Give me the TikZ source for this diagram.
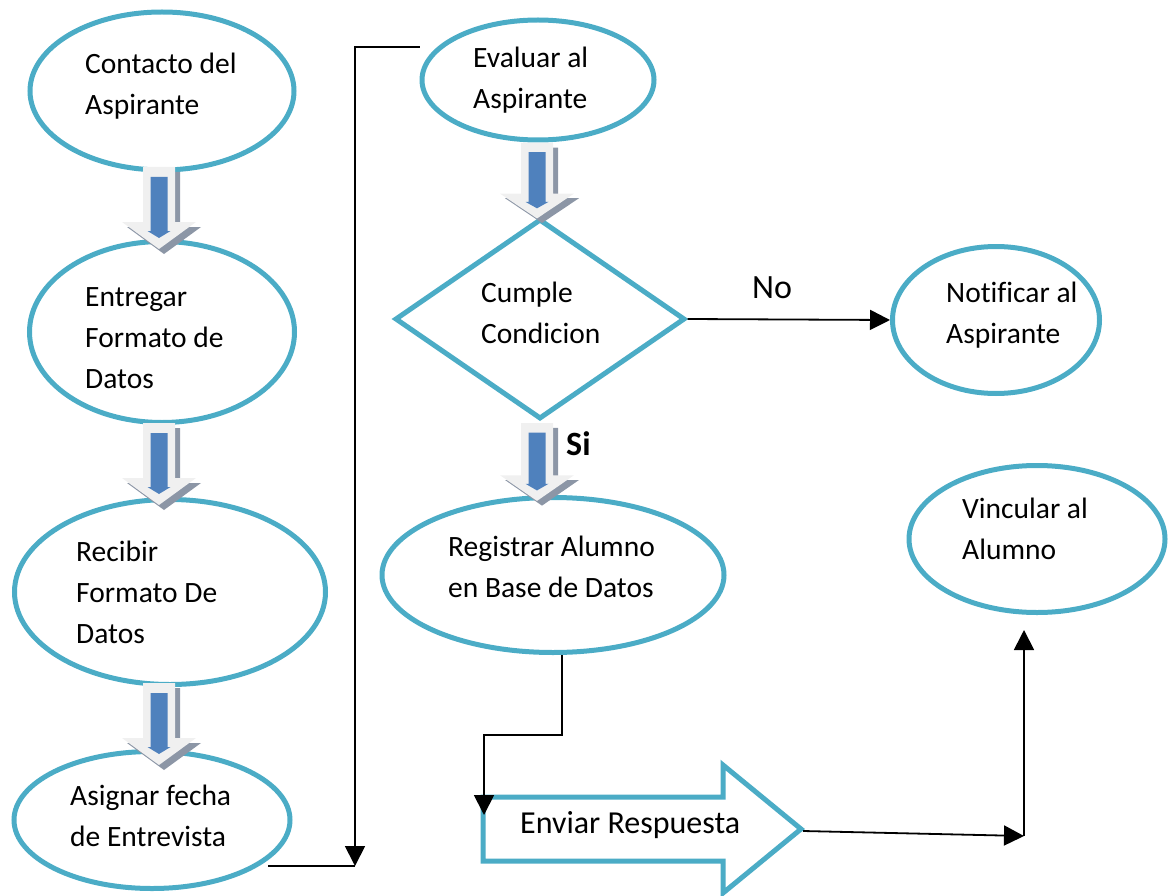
\documentclass[tikz,border=0pt]{standalone}
\usepackage{fontspec}
\setmainfont{Carlito}[Ligatures=NoCommon]
\usetikzlibrary{shapes.geometric,arrows.meta,calc}

\definecolor{turquesa}{RGB}{75,172,198}
\definecolor{azulflecha}{RGB}{79,129,189}
\definecolor{grisclaro}{RGB}{240,240,240}
\definecolor{grissombra}{RGB}{140,150,166}

\tikzset{
	proceso/.style={ellipse, draw=turquesa, line width=5pt, inner sep=0pt},
	decision/.style={diamond, draw=turquesa, line width=5pt, inner sep=0pt, fill=white},
	texto/.style={anchor=base west, align=left, inner sep=0pt, font=\fontsize{29.5}{41}\selectfont},
	linea/.style={line width=1.8pt},
	punta/.style={-{Triangle[length=20pt,width=20pt]}},
	flecha/.pic={
		\fill[grissombra] (-11,5) -- (21,5) -- (21,60) -- (42,60) -- (5,87) -- (-32,60) -- (-11,60) -- cycle;
		\fill[grisclaro] (-16,0) -- (16,0) -- (16,55) -- (37,55) -- (0,82) -- (-37,55) -- (-16,55) -- cycle;
		\fill[azulflecha] (-8.5,10) -- (8.5,10) -- (8.5,64) -- (11.5,64) -- (0,71) -- (-11.5,64) -- (-8.5,64) -- cycle;
	}
}

\begin{document}
\begin{tikzpicture}[x=1pt, y=-1pt]
			\useasboundingbox (0,0) rectangle (1172,896);
			
			% columna izquierda
			\node[proceso, minimum width=264pt, minimum height=158pt] (contacto) at (162,91) {};
			\node[proceso, minimum width=265pt, minimum height=181pt] (entregar) at (162,332) {};
			\node[proceso, minimum width=311pt, minimum height=185pt] (recibir) at (170,592) {};
			\node[proceso, minimum width=276pt, minimum height=137pt] (asignar) at (152,820) {};
			
			% columna central
			\node[proceso, minimum width=232pt, minimum height=120pt] (evaluar) at (538,80) {};
			\node[decision, minimum width=290pt, minimum height=200pt] (cumple) at (540,319) {};
			\node[proceso, minimum width=342pt, minimum height=155pt] (registrar) at (553,575) {};
			
			% columna derecha
			\node[proceso, minimum width=207pt, minimum height=147pt] (notificar) at (996,320) {};
			\node[proceso, minimum width=256pt, minimum height=147pt] (vincular) at (1037,539) {};
			
			\draw[draw=turquesa, line width=5pt, fill=white] (483,797) -- (723,797) -- (723,765) -- (801,829)
			-- (723,893) -- (723,861) -- (483,861) -- cycle;
			\coordinate (salida) at (803,831);
			
			% textos (base = ultima linea)
			\node[texto] (tcontacto) at (85,115) {Contacto del\\Aspirante};
			\node[texto] (tentregar) at (85,388) {Entregar\\Formato de\\Datos};
			\node[texto] (trecibir) at (76,643) {Recibir\\Formato De\\Datos};
			\node[texto] (tasignar) at (70,846) {Asignar fecha\\de Entrevista};
			\node[texto] (tevaluar) at (473,109) {Evaluar al\\Aspirante};
			\node[texto] (tcumple) at (481,343) {Cumple\\Condicion};
			\node[texto] (tnotificar) at (946,343) {Notificar al\\Aspirante};
			\node[texto] (tregistrar) at (448,597) {Registrar Alumno\\en Base de Datos};
			\node[texto] (tvincular) at (962,559) {Vincular al\\Alumno};
			\node[texto, font=\fontsize{32}{40}\selectfont] (tenviar) at (520,833) {Enviar Respuesta};
			\node[texto, font=\fontsize{34}{40}\selectfont] (no) at (752,298) {No};
			\node[texto, font=\fontsize{34}{40}\selectfont\bfseries] (si) at (566,455) {Si};
			
			% flechas de bloque
			\pic at (159,167) {flecha};
			\pic at (159,423) {flecha};
			\pic at (159,683) {flecha};
			\pic[yscale=0.92] at (537,143) {flecha};
			\pic[yscale=0.95] at (537,423) {flecha};
			
			% conectores
			\coordinate (esq1) at (355,47);
			\coordinate (esq2) at (355,866);
			\draw[linea, punta] (evaluar.west |- esq1) -- (esq1) -- (esq2);
			\draw[linea] (esq2) -- (asignar.-19 |- esq2);
			
			\draw[linea, punta] (cumple.east) -- (notificar.west);
			
			\coordinate (esq3) at (562,735);
			\coordinate (esq4) at (484,735);
			\draw[linea, punta] (registrar.south -| esq3) -- (esq3) -- (esq4) -- (484,815);
			
			\coordinate (esq5) at (1024,836);
			\draw[linea, punta] (salida) -- (esq5);
			\draw[linea, punta] (esq5) -- ($(vincular.south -| esq5)+(0,15)$);
			\end{tikzpicture}
\end{document}
